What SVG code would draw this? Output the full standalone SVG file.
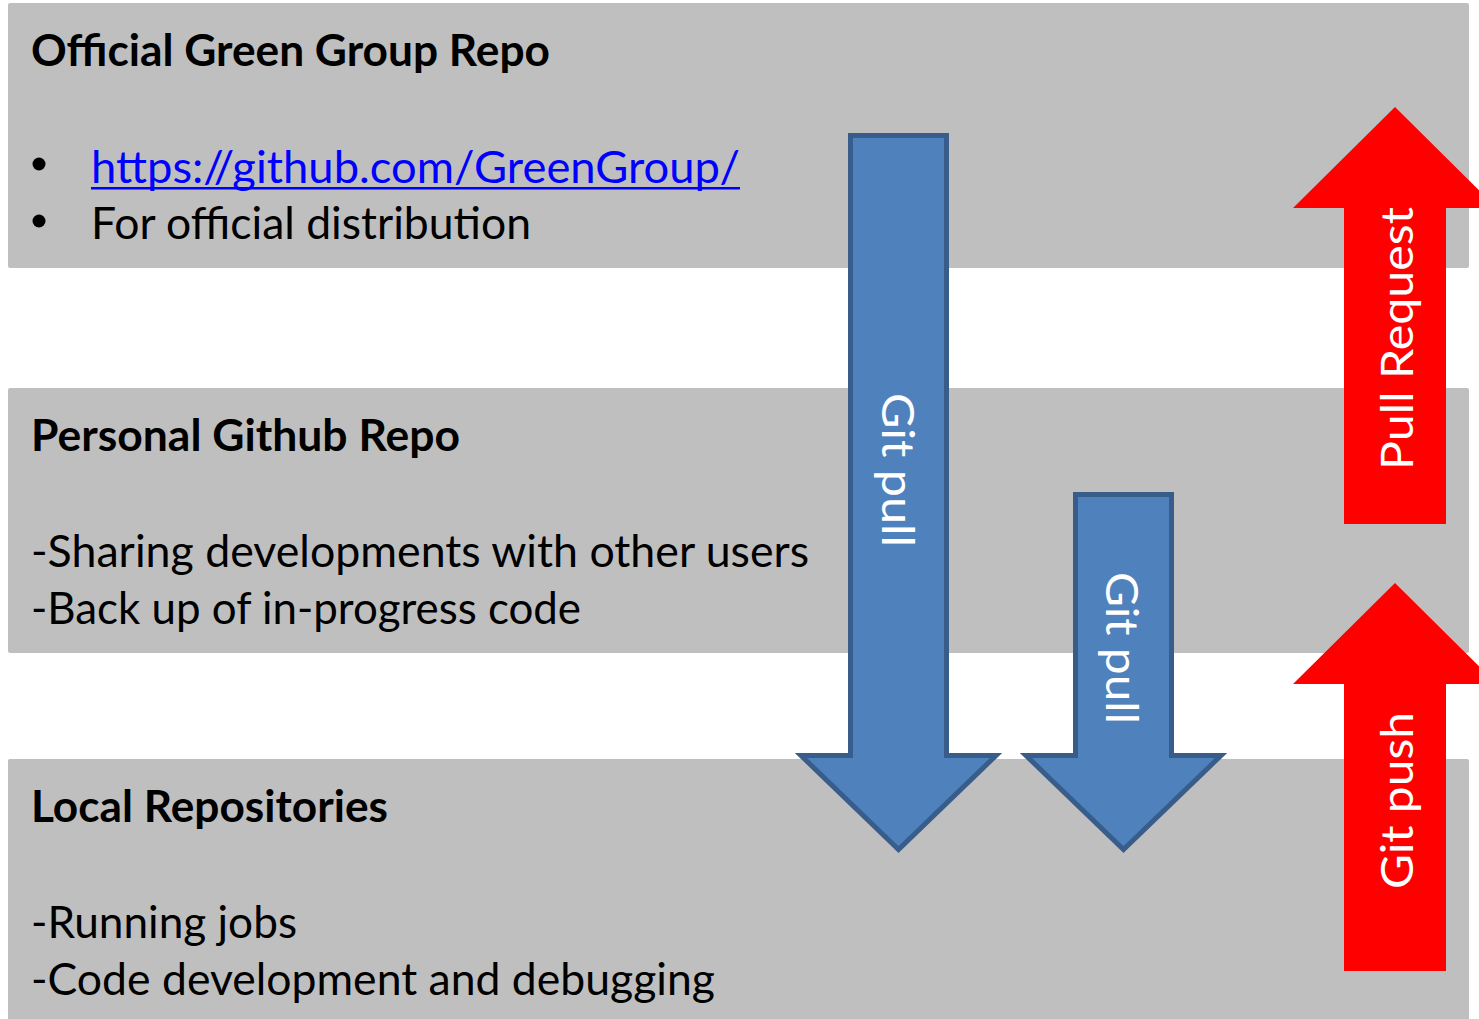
<svg xmlns="http://www.w3.org/2000/svg" width="1479" height="1019" viewBox="0 0 1479 1019">
  <style>
    .panel { fill: #BFBFBF; }
    .title { font-family: Lato, "Liberation Sans", sans-serif; font-weight: bold; font-size: 44px; fill: #000000; }
    .body { font-family: Lato, "Liberation Sans", sans-serif; font-size: 44px; fill: #000000; }
    .link { fill: #0000FF; }
    .pull { fill: #4F81BD; stroke: #385D8A; stroke-width: 5; stroke-linejoin: miter; }
    .push { fill: #FF0000; }
    .alabel { font-family: Lato, "Liberation Sans", sans-serif; font-size: 44px; fill: #FFFFFF; text-anchor: middle; }
  </style>
  <rect width="1479" height="1019" fill="#FFFFFF"/>

  <!-- Official repository panel -->
  <g id="official-repo">
    <rect class="panel" x="8" y="3" width="1461" height="265" rx="2"/>
    <text class="title" x="31" y="66" textLength="519" lengthAdjust="spacingAndGlyphs">Official Green Group Repo</text>
    <circle cx="39" cy="164" r="6.5" fill="#000000"/>
    <circle cx="39" cy="221" r="6.5" fill="#000000"/>
    <text class="body link" x="91" y="183" textLength="649" lengthAdjust="spacingAndGlyphs">https://github.com/GreenGroup/</text>
    <rect x="91" y="187" width="649" height="2.5" fill="#0000FF"/>
    <text class="body" x="91" y="239" textLength="440" lengthAdjust="spacingAndGlyphs">For official distribution</text>
  </g>

  <!-- Personal repository panel -->
  <g id="personal-repo">
    <rect class="panel" x="8" y="388" width="1461" height="265" rx="2"/>
    <text class="title" x="31" y="451" textLength="429" lengthAdjust="spacingAndGlyphs">Personal Github Repo</text>
    <text class="body" x="31" y="567" textLength="778" lengthAdjust="spacingAndGlyphs">-Sharing developments with other users</text>
    <text class="body" x="31" y="624" textLength="550" lengthAdjust="spacingAndGlyphs">-Back up of in-progress code</text>
  </g>

  <!-- Local repositories panel -->
  <g id="local-repos">
    <rect class="panel" x="8" y="759" width="1461" height="265" rx="2"/>
    <text class="title" x="31" y="822" textLength="357" lengthAdjust="spacingAndGlyphs">Local Repositories</text>
    <text class="body" x="31" y="938" textLength="266" lengthAdjust="spacingAndGlyphs">-Running jobs</text>
    <text class="body" x="31" y="995" textLength="684" lengthAdjust="spacingAndGlyphs">-Code development and debugging</text>
  </g>

  <!-- Flow arrows between repositories -->
  <g id="connectors">
    <g id="pull-official-to-local">
      <path class="pull" d="M850.5,135.5 H946.5 V755.5 H996 L898.5,849.5 L801,755.5 H850.5 Z"/>
      <text class="alabel" transform="translate(882,470) rotate(90)" textLength="154" lengthAdjust="spacingAndGlyphs">Git pull</text>
    </g>
    <g id="pull-personal-to-local">
      <path class="pull" d="M1075.5,494.5 H1171.5 V755.5 H1221 L1123.5,849.5 L1026,755.5 H1075.5 Z"/>
      <text class="alabel" transform="translate(1106,648) rotate(90)" textLength="152" lengthAdjust="spacingAndGlyphs">Git pull</text>
    </g>
    <g id="pull-request">
      <polygon class="push" points="1344,524 1344,208 1293,208 1395,107 1497,208 1446,208 1446,524"/>
      <text class="alabel" transform="translate(1413,338.5) rotate(-90)" textLength="263" lengthAdjust="spacingAndGlyphs">Pull Request</text>
    </g>
    <g id="git-push">
      <polygon class="push" points="1344,971 1344,684 1293,684 1395,583 1497,684 1446,684 1446,971"/>
      <text class="alabel" transform="translate(1413,800.5) rotate(-90)" textLength="177" lengthAdjust="spacingAndGlyphs">Git push</text>
    </g>
  </g>
</svg>
